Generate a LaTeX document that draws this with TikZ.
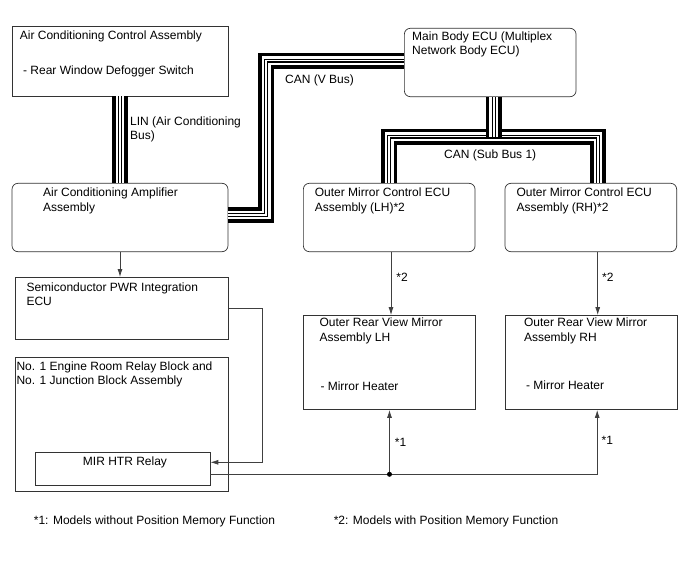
\documentclass[tikz,border=0pt]{standalone}
\usepackage{fontspec}
\setmainfont{Liberation Sans}
\usepackage{tikz}
\usetikzlibrary{arrows.meta, calc}

\begin{document}
\begin{tikzpicture}[x=1pt, y=-1pt, font=\fontsize{12}{14.4}\selectfont]
    \tikzset{
      blk/.style={
        draw=black!80,
        line width=0.7pt,
        inner sep=0pt,
      },
      rblk/.style={blk, rounded corners=6pt},
      txt/.style={anchor=base west, align=left, inner sep=0pt},
      % two lines: base anchor sits on the second line
      txtii/.style={txt, yshift=-14.4pt},
      wire/.style={draw=black!75, line width=0.8pt},
      arr/.style={wire, -{Latex[length=8pt,width=5pt]}},
      lbl/.style={inner sep=0pt, anchor=west},
      bus/.style={
        line width=16pt, black, line join=miter,
        postaction={draw, white, line width=8.6pt},
        postaction={draw, black, line width=4pt},
        postaction={draw, white, line width=1.8pt},
      }
    }
    \useasboundingbox (0,0) rectangle (688,560);

    % boxes
    \node[blk,  minimum width=216pt,   minimum height=69.3pt]  (acc)   at (120,61.4)    {};
    \node[rblk, minimum width=216pt,   minimum height=68.4pt]  (amp)   at (120,217.5)   {};
    \node[rblk, minimum width=171.7pt, minimum height=68.4pt]  (body)  at (490.2,62.5)  {};
    \node[rblk, minimum width=171.7pt, minimum height=68.4pt]  (omlh)  at (389.2,217.5) {};
    \node[rblk, minimum width=171.7pt, minimum height=68.4pt]  (omrh)  at (590.8,217.5) {};
    \node[blk,  minimum width=213pt,   minimum height=61.7pt]  (semi)  at (121.8,308.2) {};
    \node[blk,  minimum width=213pt,   minimum height=133.7pt] (jb)    at (121.8,424.2) {};
    \node[blk,  minimum width=175pt,   minimum height=32.7pt]  (relay) at (122.5,468.7) {};
    \node[blk,  minimum width=171.7pt, minimum height=94.1pt]  (mirlh) at (389.5,362.5) {};
    \node[blk,  minimum width=172pt,   minimum height=94.1pt]  (mirrh) at (591.2,362.5) {};

    % box texts
    \node[txt]   (acc-t)   at ($(acc.north west)+(8,13.3)$)     {Air Conditioning Control Assembly};
    \node[txt]   (acc-s)   at ($(acc.north west)+(11.3,48.3)$)  {- Rear Window Defogger Switch};
    \node[txtii] (amp-t)   at ($(amp.north west)+(31.3,14)$)    {Air Conditioning Amplifier\\Assembly};
    \node[txtii] (body-t)  at ($(body.north west)+(8,12.4)$)    {Main Body ECU (Multiplex\\Network Body ECU)};
    \node[txtii] (omlh-t)  at ($(omlh.north west)+(11.7,13.7)$) {Outer Mirror Control ECU\\Assembly (LH)*2};
    \node[txtii] (omrh-t)  at ($(omrh.north west)+(11.7,13.7)$) {Outer Mirror Control ECU\\Assembly (RH)*2};
    \node[txtii] (semi-t)  at ($(semi.north west)+(11.4,14.4)$) {Semiconductor PWR Integration\\ECU};
    \node[txtii] (jb-t)    at ($(jb.north west)+(1.4,13.4)$)    {No. 1 Engine Room Relay Block and\\No. 1 Junction Block Assembly};
    \node[anchor=base, inner sep=0pt] (relay-t) at ($(relay.north)+(2.5,13.7)$) {MIR HTR Relay};
    \node[txtii] (mirlh-t) at ($(mirlh.north west)+(16,11.7)$)  {Outer Rear View Mirror\\Assembly LH};
    \node[txt]   (mirlh-s) at ($(mirlh.north west)+(17,75.8)$)  {- Mirror Heater};
    \node[txtii] (mirrh-t) at ($(mirrh.north west)+(19,11.7)$)  {Outer Rear View Mirror\\Assembly RH};
    \node[txt]   (mirrh-s) at ($(mirrh.north west)+(21,74.2)$)  {- Mirror Heater};

    % buses
    \draw[bus] (acc.south) -- (amp.north);
    \draw[bus] ([yshift=2.5pt]amp.east) -- ++(38,0) |- ([yshift=2pt]body.west);
    \coordinate (sb) at ([xshift=3.5pt]body.south |- 0,136.5);
    \draw[bus] (omlh.north) |- (sb) -| ([xshift=7pt]omrh.north);
    \draw[bus] ([xshift=3.5pt]body.south) -- (sb);

    \node[txtii] (lin)  at (130,125) {LIN (Air Conditioning\\Bus)};
    \node[txt]   (vbus) at (285,83)  {CAN (V Bus)};
    \node[txt]   (sbus) at (444,158) {CAN (Sub Bus 1)};

    % wires
    \draw[arr] (amp.south) -- (amp.south |- semi.north);
    \draw[arr] (semi.east) -- ++(33.4,0) |- ([yshift=6.4pt]relay.east);
    \draw[arr] ([xshift=1.8pt]omlh.south) -- node[lbl, pos=.4, right=5pt] {*2} ([xshift=1.8pt]omlh.south |- mirlh.north);
    \draw[arr] ([xshift=6.9pt]omrh.south) -- node[lbl, pos=.4, right=4pt] {*2} ([xshift=6.9pt]omrh.south |- mirrh.north);
    \coordinate (jn) at (mirlh.south |- 0,474.3);
    \draw[arr] ([yshift=-5.6pt]relay.east) -| node[lbl, pos=.76, right=4pt] {*1} ([xshift=6pt]mirrh.south);
    \draw[arr] (jn) -- node[lbl, pos=.5, right=5pt] {*1} (mirlh.south);
    \fill[black] (jn) circle (2.5pt);

    % notes
    \node[lbl] (fn1) at (33.7,521)  {*1: Models without Position Memory Function};
    \node[lbl] (fn2) at (333.6,521) {*2: Models with Position Memory Function};
\end{tikzpicture}
\end{document}
